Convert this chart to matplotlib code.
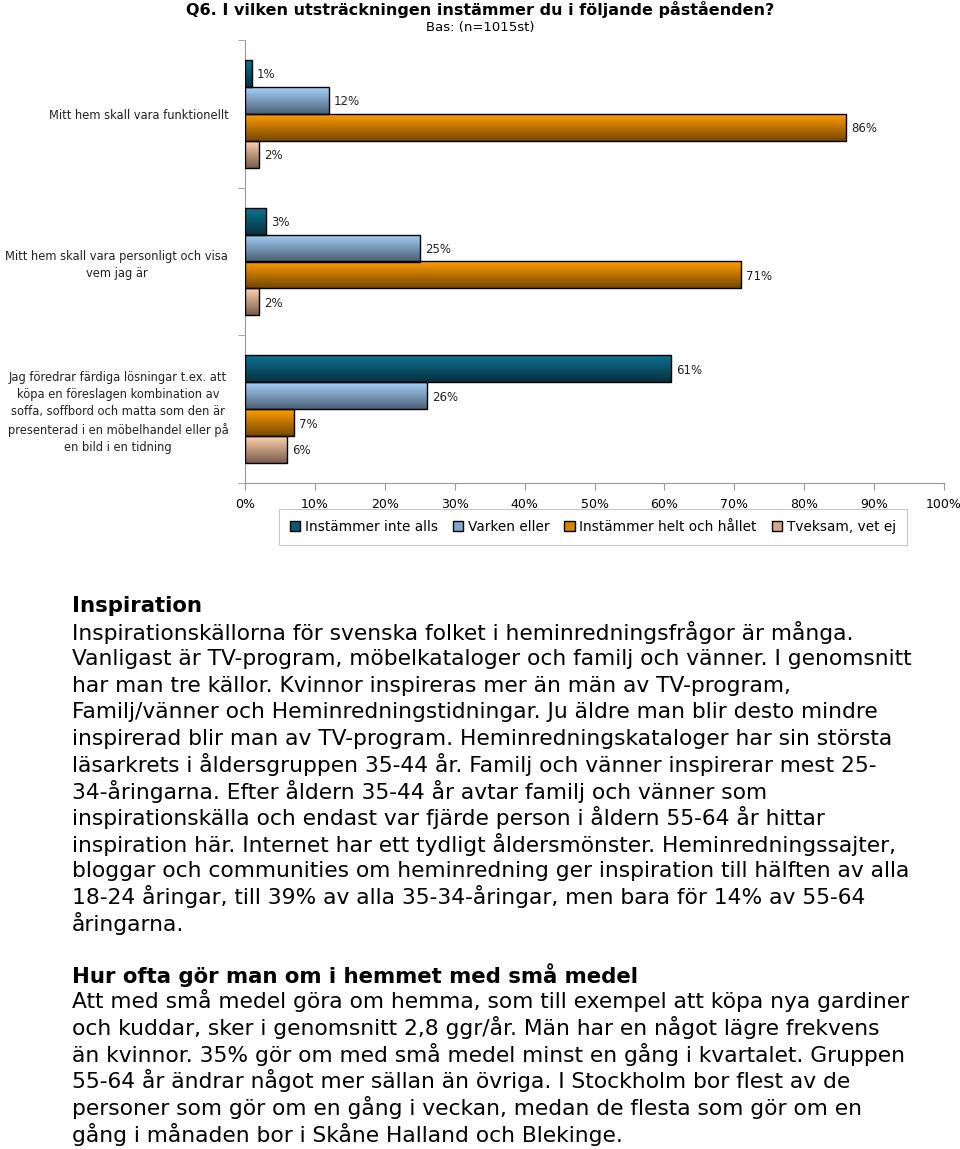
import numpy as np
import matplotlib
matplotlib.use("Agg")
import matplotlib.pyplot as plt
from matplotlib.patches import Patch
from matplotlib.colors import to_rgb

plt.rcParams['font.family'] = ['DejaVu Sans']

# data
categories = ["Mitt hem skall vara funktionellt",
              "Mitt hem skall vara personligt och visa\nvem jag är",
              "Jag föredrar färdiga lösningar t.ex. att\nköpa en föreslagen kombination av\n"
              "soffa, soffbord och matta som den är\npresenterad i en möbelhandel eller på\n"
              "en bild i en tidning"]
series = ["Instämmer inte alls", "Varken eller", "Instämmer helt och hållet", "Tveksam, vet ej"]
inte_alls = [1, 3, 61]
varken = [12, 25, 26]
helt = [86, 71, 7]
tveksam = [2, 2, 6]
values = [inte_alls, varken, helt, tveksam]

# gradient colours top -> bottom
grad_top = ["#0b7393", "#a6d2fa", "#ff9e00", "#ffd3ad"]
grad_bot = ["#08303f", "#4c6078", "#774700", "#7a5c4c"]
legend_col = ["#0b5a72", "#7fa6cc", "#d68400", "#d4a888"]

title = "Q6. I vilken utsträckningen instämmer du i följande påståenden?"
subtitle = "Bas: (n=1015st)"

head1 = "Inspiration"
para1 = ["Inspirationskällorna för svenska folket i heminredningsfrågor är många.",
         "Vanligast är TV-program, möbelkataloger och familj och vänner. I genomsnitt",
         "har man tre källor. Kvinnor inspireras mer än män av TV-program,",
         "Familj/vänner och Heminredningstidningar. Ju äldre man blir desto mindre",
         "inspirerad blir man av TV-program. Heminredningskataloger har sin största",
         "läsarkrets i åldersgruppen 35-44 år. Familj och vänner inspirerar mest 25-",
         "34-åringarna. Efter åldern 35-44 år avtar familj och vänner som",
         "inspirationskälla och endast var fjärde person i åldern 55-64 år hittar",
         "inspiration här. Internet har ett tydligt åldersmönster. Heminredningssajter,",
         "bloggar och communities om heminredning ger inspiration till hälften av alla",
         "18-24 åringar, till 39% av alla 35-34-åringar, men bara för 14% av 55-64",
         "åringarna."]
head2 = "Hur ofta gör man om i hemmet med små medel"
para2 = ["Att med små medel göra om hemma, som till exempel att köpa nya gardiner",
         "och kuddar, sker i genomsnitt 2,8 ggr/år. Män har en något lägre frekvens",
         "än kvinnor. 35% gör om med små medel minst en gång i kvartalet. Gruppen",
         "55-64 år ändrar något mer sällan än övriga. I Stockholm bor flest av de",
         "personer som gör om en gång i veckan, medan de flesta som gör om en",
         "gång i månaden bor i Skåne Halland och Blekinge."]

W, H = 960, 1149
fig = plt.figure(figsize=(W / 100, H / 100), dpi=100)
ax = fig.add_axes([245 / W, 1 - 483 / H, 699 / W, 443 / H])

n = len(categories)
h = 0.182
offsets = [1.5 * h, 0.5 * h, -0.5 * h, -1.5 * h]
ypos = np.array([n - 1 - i for i in range(n)], dtype=float)

for s in range(4):
    c0 = np.array(to_rgb(grad_top[s]))
    c1 = np.array(to_rgb(grad_bot[s]))
    t = np.linspace(0, 1, 64)[:, None]
    grad = (c0 * (1 - t) + c1 * t)[:, None, :]
    vals = np.array(values[s]) / 100.0
    bars = ax.barh(ypos + offsets[s], vals, height=h, color="none",
                   edgecolor="black", linewidth=1.0, zorder=3)
    for b, v in zip(bars, vals):
        x0, y0 = b.get_x(), b.get_y()
        im = ax.imshow(grad, extent=(x0, x0 + b.get_width(), y0, y0 + b.get_height()),
                       origin="upper", aspect="auto", zorder=2, interpolation="bilinear")
        im.set_clip_path(b)
        ax.text(v + 0.007, b.get_y() + b.get_height() / 2 - 0.01, f"{int(round(v * 100))}%",
                va="center", ha="left", fontsize=8.5, color="#222222")

ax.set_xlim(0, 1)
ax.set_ylim(-0.5, n - 0.5)
ax.set_xticks(np.linspace(0, 1, 11))
ax.set_xticklabels([f"{int(x)}%" for x in np.linspace(0, 100, 11)], fontsize=9)
ax.set_yticks(ypos)
ax.set_yticklabels(categories, fontsize=8.3, multialignment="center", linespacing=1.4,
                   color="#222222")
ax.set_yticks(np.arange(-0.5, n, 1.0), minor=True)
ax.tick_params(axis="y", which="major", length=0, pad=12)
ax.tick_params(axis="y", which="minor", length=5, color="#999999")
ax.tick_params(axis="x", length=5, color="#999999", pad=6)
for sp in ["top", "right"]:
    ax.spines[sp].set_visible(False)
ax.spines["left"].set_color("#999999")
ax.spines["bottom"].set_color("#999999")

handles = [Patch(facecolor=legend_col[i], edgecolor="black", label=series[i]) for i in range(4)]
leg = fig.legend(handles=handles, loc="center", bbox_to_anchor=(593 / W, 1 - 527 / H),
                 ncol=4, fontsize=9.8, frameon=True, fancybox=False,
                 handlelength=0.75, handleheight=0.75, handletextpad=0.35, columnspacing=1.1,
                 borderpad=0.8)
leg.get_frame().set_edgecolor("#bbbbbb")
leg.get_frame().set_linewidth(0.8)

fig.text(480 / W, 1 - 9 / H, title, ha="center", va="center", fontsize=11.5, fontweight="bold")
fig.text(480 / W, 1 - 27 / H, subtitle, ha="center", va="center", fontsize=9.5)

xl = 72 / W
fs = 15.7
fig.text(xl, 1 - 606 / H, head1, ha="left", va="center", fontsize=15.3, fontweight="bold")
for i, line in enumerate(para1):
    fig.text(xl, 1 - (633 + i * 26.4) / H, line, ha="left", va="center", fontsize=fs)
fig.text(xl, 1 - 975 / H, head2, ha="left", va="center", fontsize=15.3, fontweight="bold")
for i, line in enumerate(para2):
    fig.text(xl, 1 - (1001 + i * 26.6) / H, line, ha="left", va="center", fontsize=fs)

fig.savefig("out.png", dpi=100)
